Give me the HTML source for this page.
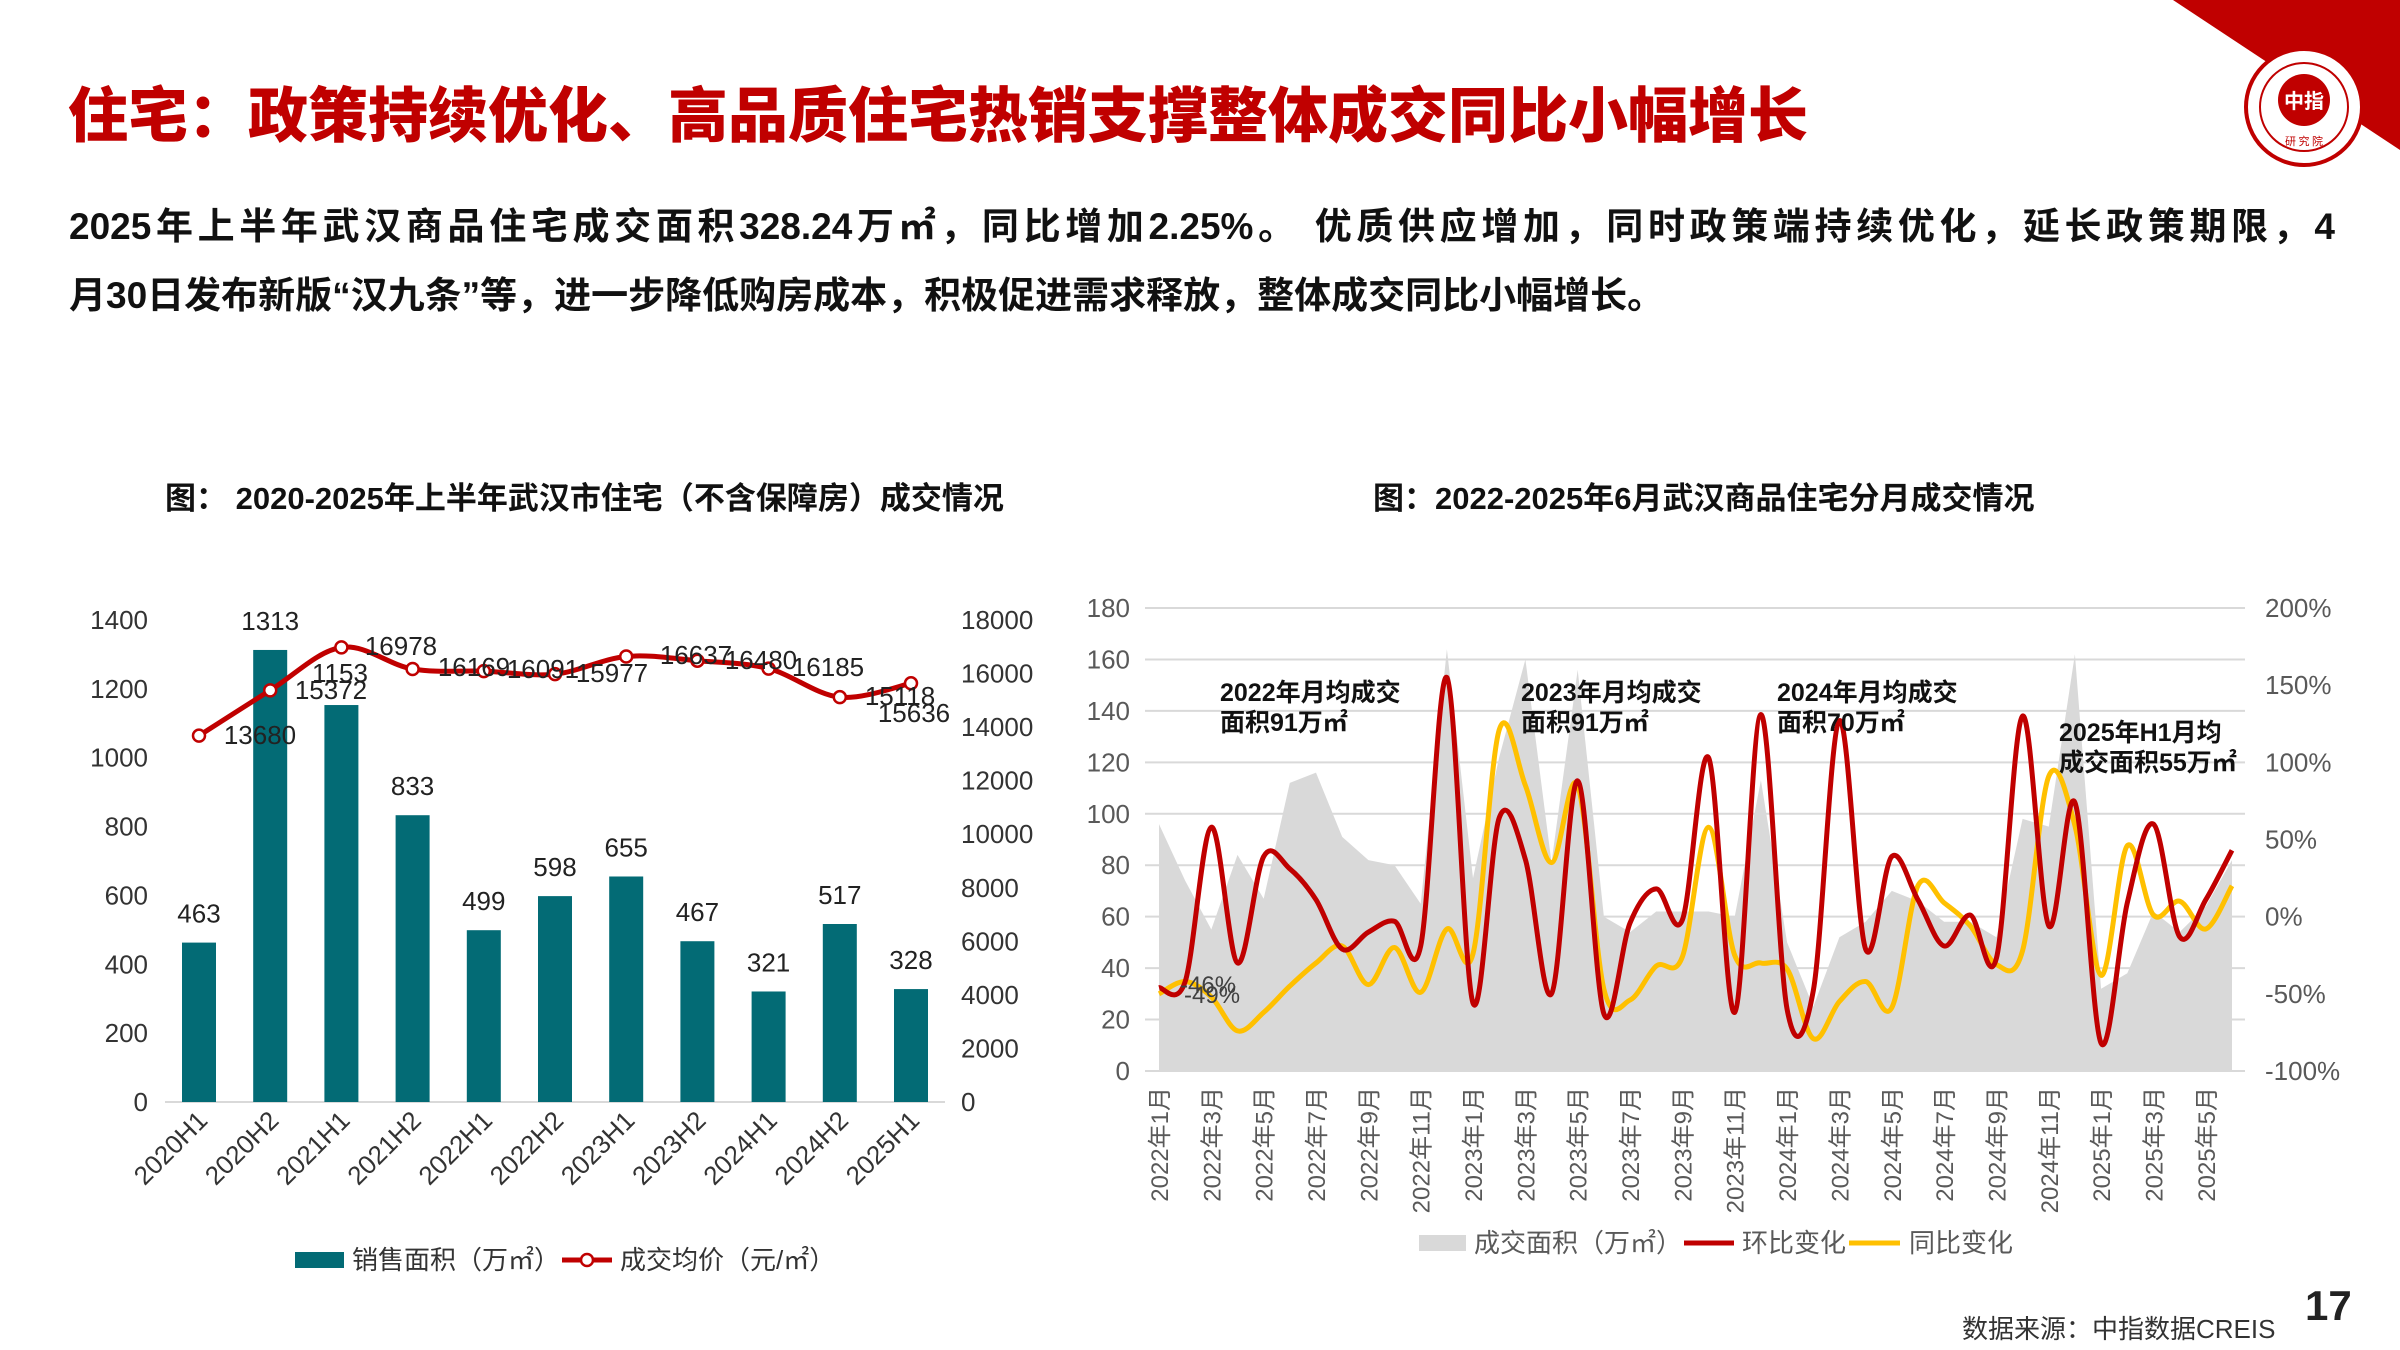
<!DOCTYPE html>
<html><head><meta charset="utf-8">
<style>
html,body{margin:0;padding:0;background:#fff;}
body{width:2400px;height:1350px;position:relative;overflow:hidden;font-family:"Liberation Sans","Noto Sans CJK SC",sans-serif;}
.t{position:absolute;white-space:nowrap;}
#title{left:68px;top:68px;font-size:60px;font-weight:900;color:#c00000;font-family:"Liberation Sans","Noto Sans CJK SC",sans-serif;}
.para{position:absolute;left:69px;width:2266px;font-size:37px;font-weight:700;color:#111;font-family:"Liberation Sans","Noto Sans CJK SC",sans-serif;white-space:nowrap;}
svg{position:absolute;left:0;top:0;}
</style></head><body>
<div class="t" id="title">住宅：政策持续优化、高品质住宅热销支撑整体成交同比小幅增长</div>
<div class="para" style="top:196px;text-align:justify;text-align-last:justify;">2025年上半年武汉商品住宅成交面积328.24万㎡，同比增加2.25%。 优质供应增加，同时政策端持续优化，延长政策期限，4</div>
<div class="para" style="top:265px;">月30日发布新版“汉九条”等，进一步降低购房成本，积极促进需求释放，整体成交同比小幅增长。</div>

<svg id="s" width="2400" height="1350" viewBox="0 0 2400 1350" xmlns="http://www.w3.org/2000/svg" font-family="'Liberation Sans Narrow','Liberation Sans','Noto Sans CJK SC',sans-serif">
<polygon points="2173,0 2400,0 2400,150" fill="#c00000"/>
<circle cx="2304" cy="107" r="58" fill="#fff" stroke="#c00000" stroke-width="4"/>
<circle cx="2304" cy="107" r="44" fill="none" stroke="#c00000" stroke-width="2"/>
<circle cx="2304" cy="100" r="26" fill="#c00000"/>
<text x="2304" y="108" font-size="20" fill="#fff" text-anchor="middle" font-weight="700" font-family="'Noto Sans CJK SC',sans-serif">中指</text>
<text x="2304" y="145" font-size="11" fill="#c00000" text-anchor="middle" font-family="'Noto Sans CJK SC',sans-serif">研 究 院</text>

<text x="165" y="509" font-size="31" font-weight="700" fill="#111" font-family="'Liberation Sans','Noto Sans CJK SC',sans-serif">图： 2020-2025年上半年武汉市住宅（不含保障房）成交情况</text>
<text x="1373" y="509" font-size="31" font-weight="700" fill="#111" font-family="'Liberation Sans','Noto Sans CJK SC',sans-serif">图：2022-2025年6月武汉商品住宅分月成交情况</text>

<g id="left"></g>
<g id="right"></g>

<text x="1962" y="1338" font-size="26" fill="#333" font-family="'Liberation Sans','Noto Sans CJK SC',sans-serif">数据来源：中指数据CREIS</text>
<text x="2305" y="1320" font-size="42" font-weight="700" fill="#222" font-family="'Liberation Sans',sans-serif">17</text>
</svg>
<script>
(function(){
var NS="http://www.w3.org/2000/svg";
function el(p,tag,attrs,txt){var e=document.createElementNS(NS,tag);for(var k in attrs)e.setAttribute(k,attrs[k]);if(txt!==undefined)e.textContent=txt;p.appendChild(e);return e;}
function smooth(pts){var d="M"+pts[0][0].toFixed(1)+","+pts[0][1].toFixed(1);for(var i=0;i<pts.length-1;i++){var p0=pts[i-1]||pts[i],p1=pts[i],p2=pts[i+1],p3=pts[i+2]||p2;var c1x=p1[0]+(p2[0]-p0[0])/6,c1y=p1[1]+(p2[1]-p0[1])/6,c2x=p2[0]-(p3[0]-p1[0])/6,c2y=p2[1]-(p3[1]-p1[1])/6;d+=" C"+c1x.toFixed(1)+","+c1y.toFixed(1)+" "+c2x.toFixed(1)+","+c2y.toFixed(1)+" "+p2[0].toFixed(1)+","+p2[1].toFixed(1);}return d;}
var L=document.getElementById("left");
var y0=1102,H=482;
for(var v=0;v<=1400;v+=200){var y=y0-v/1400*H;el(L,"text",{x:148,y:y+9,"font-size":26,fill:"#333","text-anchor":"end"},v);}
for(var v=0;v<=18000;v+=2000){var y=y0-v/18000*H;el(L,"text",{x:961,y:y+9,"font-size":26,fill:"#333"},v);}
el(L,"line",{x1:165,y1:y0,x2:945,y2:y0,stroke:"#d9d9d9","stroke-width":2});
var bars=[463,1313,1153,833,499,598,655,467,321,517,328];
var cats=["2020H1","2020H2","2021H1","2021H2","2022H1","2022H2","2023H1","2023H2","2024H1","2024H2","2025H1"];
var price=[13680,15372,16978,16169,16091,15977,16637,16480,16185,15118,15636];
var pts=[];
for(var i=0;i<11;i++){var cx=199+i*71.2;var bt=y0-bars[i]/1400*H;
el(L,"rect",{x:cx-17,y:bt,width:34,height:y0-bt,fill:"#036b75"});
if(i!=2)el(L,"text",{x:cx,y:bt-20,"font-size":26,fill:"#222","text-anchor":"middle"},bars[i]);
el(L,"text",{x:cx+10,y:y0+20,"font-size":26,fill:"#333","text-anchor":"end",transform:"rotate(-45 "+(cx+10)+" "+(y0+20)+")"},cats[i]);
pts.push([cx,y0-price[i]/18000*H]);}
el(L,"path",{d:smooth(pts),fill:"none",stroke:"#c00000","stroke-width":5});
pts.forEach(function(p){el(L,"circle",{cx:p[0],cy:p[1],r:6,fill:"#fff",stroke:"#c00000","stroke-width":2.5});});
var pl=[["1153",340,682],["13680",260,744],["15372",331,699],["16978",401,655],["16169",474,676],["16091",543,678],["15977",612,682],["16637",696,664],["16480",761,669],["16185",828,676],["15118",900,705],["15636",914,722]];
pl.forEach(function(a){el(L,"text",{x:a[1],y:a[2],"font-size":26,fill:"#222","text-anchor":"middle"},a[0]);});
el(L,"rect",{x:295,y:1252,width:49,height:16,fill:"#036b75"});
el(L,"text",{x:352,y:1269,"font-size":26,fill:"#333","font-family":"'Liberation Sans','Noto Sans CJK SC',sans-serif"},"销售面积（万㎡）");
el(L,"line",{x1:562,y1:1260,x2:612,y2:1260,stroke:"#c00000","stroke-width":5});
el(L,"circle",{cx:587,cy:1260,r:6,fill:"#fff",stroke:"#c00000","stroke-width":2.5});
el(L,"text",{x:620,y:1269,"font-size":26,fill:"#333","font-family":"'Liberation Sans','Noto Sans CJK SC',sans-serif"},"成交均价（元/㎡）");

var R=document.getElementById("right");
var ry0=1071,RH=463,x0=1159,dx=26.17;
function yv(v){return ry0-v/180*RH;}function yp(p){return ry0-(p+100)/300*RH;}
for(var v=0;v<=180;v+=20){var y=yv(v);el(R,"line",{x1:1145,y1:y,x2:2245,y2:y,stroke:"#d9d9d9","stroke-width":2});el(R,"text",{x:1130,y:y+9,"font-size":26,fill:"#595959","text-anchor":"end"},v);}
for(var p=-100;p<=200;p+=50){el(R,"text",{x:2265,y:yp(p)+9,"font-size":26,fill:"#595959"},p+"%");}
var area=[96,74,55,84,67,112,116,91,82,80,65,164,75,122,160,81,156,60,54,62,62,62,60,113,50,25,52,58,70,66,58,58,52,98,95,162,32,38,62,54,64,82];
var mom=[-46,-42,58,-30,39,31,11,-21,-10,-3,-19,155,-56,64,37,-50,88,-63,-4,18,-2,103,-62,131,-60,-48,127,-21,39,11,-19,1,-27,130,-6,74,-82,9,60,-13,11,43];
var yoy=[-50,-42,-52,-74,-62,-45,-30,-19,-44,-20,-49,-8,-24,121,85,35,85,-47,-54,-32,-26,58,-25,-30,-34,-79,-55,-42,-59,20,9,-6,-31,-22,91,59,-38,46,1,10,-8,20];
var ap="M"+x0+","+ry0;
for(var i=0;i<42;i++){ap+=" L"+(x0+i*dx).toFixed(1)+","+yv(area[i]).toFixed(1);}
ap+=" L"+(x0+41*dx).toFixed(1)+","+ry0+" Z";
el(R,"path",{d:ap,fill:"#d9d9d9"});
var pm=[],py=[];for(var i=0;i<42;i++){pm.push([x0+i*dx,yp(mom[i])]);py.push([x0+i*dx,yp(yoy[i])]);}
el(R,"path",{d:smooth(py),fill:"none",stroke:"#ffc000","stroke-width":5});
el(R,"path",{d:smooth(pm),fill:"none",stroke:"#c00000","stroke-width":5});
for(var i=0;i<42;i+=2){var yr=2022+Math.floor(i/12);var m=(i%12)+1;var x=x0+i*dx;
el(R,"text",{x:x+9,y:ry0+16,"font-size":24,fill:"#595959","text-anchor":"end",transform:"rotate(-90 "+(x+9)+" "+(ry0+16)+")","font-family":"'Liberation Sans','Noto Sans CJK SC',sans-serif"},yr+"年"+m+"月");}
el(R,"text",{x:1180,y:993,"font-size":24,fill:"#404040"},"-46%");
el(R,"text",{x:1184,y:1003,"font-size":24,fill:"#404040"},"-49%");
var ann=[[1220,692,"2022年月均成交","面积91万㎡"],[1521,692,"2023年月均成交","面积91万㎡"],[1777,692,"2024年月均成交","面积70万㎡"],[2059,732,"2025年H1月均","成交面积55万㎡"]];
ann.forEach(function(a){el(R,"text",{x:a[0],y:a[1]+9,"font-size":25,"font-weight":700,fill:"#111","font-family":"'Liberation Sans','Noto Sans CJK SC',sans-serif"},a[2]);el(R,"text",{x:a[0],y:a[1]+39,"font-size":25,"font-weight":700,fill:"#111","font-family":"'Liberation Sans','Noto Sans CJK SC',sans-serif"},a[3]);});
el(R,"rect",{x:1419,y:1235,width:47,height:16,fill:"#d9d9d9"});
el(R,"text",{x:1474,y:1252,"font-size":26,fill:"#595959","font-family":"'Liberation Sans','Noto Sans CJK SC',sans-serif"},"成交面积（万㎡）");
el(R,"line",{x1:1684,y1:1243,x2:1734,y2:1243,stroke:"#c00000","stroke-width":5});
el(R,"text",{x:1742,y:1252,"font-size":26,fill:"#595959","font-family":"'Liberation Sans','Noto Sans CJK SC',sans-serif"},"环比变化");
el(R,"line",{x1:1849,y1:1243,x2:1900,y2:1243,stroke:"#ffc000","stroke-width":5});
el(R,"text",{x:1909,y:1252,"font-size":26,fill:"#595959","font-family":"'Liberation Sans','Noto Sans CJK SC',sans-serif"},"同比变化");
})();
</script>
</body></html>
